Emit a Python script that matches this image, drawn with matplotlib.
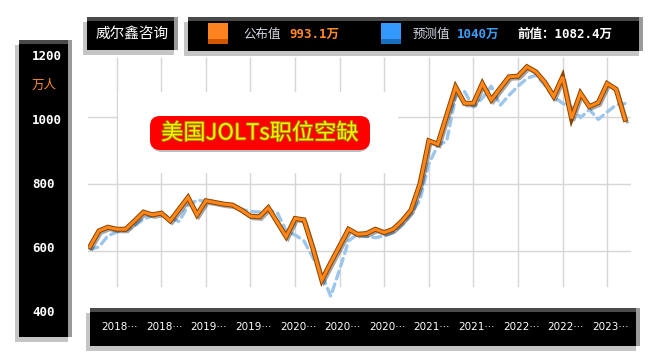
import matplotlib
matplotlib.use('Agg')  # headless
import matplotlib.pyplot as plt
import matplotlib.patheffects as pe
from matplotlib.patches import Rectangle, FancyBboxPatch
import numpy as np

plt.rcParams['font.family'] = ['Noto Sans CJK SC', 'DejaVu Sans']

# --- data (万人) ---
published = [613, 660, 671, 665, 665, 690, 716, 708, 713, 690,
             725, 760, 708, 750, 745, 740, 737, 722, 704, 702,
             729, 686, 643, 697, 693, 608, 513, 565, 615, 665,
             650, 652, 665, 655, 665, 690, 722, 800, 929, 919,
             1005, 1090, 1041, 1041, 1100, 1051, 1086, 1120, 1122, 1150,
             1135, 1104, 1061, 1120, 996, 1071, 1031, 1043, 1100, 1083,
             993]
forecast = [605, 612, 645, 657, 662, 675, 695, 705, 712, 700,
            688, 735, 752, 748, 745, 740, 735, 725, 718, 716,
            722, 715, 660, 648, 630, 580, 530, 465, 545, 630,
            650, 643, 640, 645, 655, 680, 710, 752, 860, 915,
            928, 1060, 1076, 1030, 1056, 1092, 1035, 1065, 1092, 1115,
            1125, 1095, 1061, 1041, 1030, 998, 1022, 993, 1015, 1036,
            1040]
tick_pos = [3, 8, 13, 18, 23, 28, 33, 38, 43, 48, 53, 58]
tick_labels = ['2018···', '2018···', '2019···', '2019···', '2020···', '2020···',
               '2020···', '2021···', '2021···', '2022···', '2022···', '2023···']
y_ticks = [1200, 1000, 800, 600, 400]
unit = '万人'
title = '美国JOLTs职位空缺'
brand = '威尔鑫咨询'
latest_txt, expected_txt, previous_txt = '993.1万', '1040万', '前值：1082.4万'

W, H = 654, 361
XMIN, XMAX = -0.22, 60.67

fig = plt.figure(figsize=(W / 100, H / 100), dpi=100)
fig.patch.set_facecolor('white')


def frac(l, t, r, b):
    return [l / W, 1 - b / H, (r - l) / W, (b - t) / H]


def xpx(i):
    return 88 + (i - XMIN) / (XMAX - XMIN) * (631 - 88)


# --- main plot ---
ax = fig.add_axes(frac(88, 50, 631, 318))
ax.set_xlim(XMIN, XMAX)
ax.set_ylim(400, 1200)
ax.axis('off')
for v in (600, 800, 1000):
    ax.axhline(v, color='#d6d6d6', lw=1, zorder=0)
for p in tick_pos:
    ax.axvline(p, ymin=0.12, ymax=0.97, color='#d6d6d6', lw=1, zorder=0)

x = np.arange(len(published))
ax.plot(x, forecast, color='#9cc6ec', lw=2.4, dashes=(2.4, 1.6),
        dash_capstyle='round', zorder=2)
ax.plot(x, published, color='#ff8618', lw=2.2, solid_joinstyle='miter', zorder=3,
        path_effects=[pe.SimpleLineShadow(offset=(1.5, -1.8), shadow_color='black', alpha=0.35),
                      pe.Stroke(linewidth=3.6, foreground='#8a4300'), pe.Normal()])

# --- overlay: panels, legend, title ---
ov = fig.add_axes([0, 0, 1, 1], zorder=5)
ov.set_xlim(0, W)
ov.set_ylim(H, 0)
ov.axis('off')
ov.patch.set_alpha(0)


def panel(l, t, r, b):
    ov.add_patch(Rectangle((l - 4, t + 5), r - l, b - t, color='#808080', alpha=0.45, lw=0))
    ov.add_patch(Rectangle((l, t), r - l, b - t, color='black', lw=0))
    ov.add_patch(Rectangle((l, t), r - l, 4, color='#4a4a4a', lw=0))
    ov.add_patch(Rectangle((r - 4, t), 4, b - t, color='#9a9a9a', lw=0))


# white halo behind the title badge
ov.add_patch(Rectangle((118, 92), 280, 81, color='white', lw=0))

panel(19, 40, 72, 337)
panel(87, 17, 178, 50)
panel(188, 17, 643, 51)
panel(90, 308, 640, 346)

mono = ['DejaVu Sans Mono', 'Noto Sans CJK SC']
for v in y_ticks:
    ov.text(32, 57 + (1200 - v) / 800 * 256, str(v), color='white', fontsize=9,
            fontweight='bold', family=mono, ha='left', va='center')
ov.text(32, 85, unit, color='#ff8c28', fontsize=9, ha='left', va='center')

ov.text(132, 34, brand, color='white', fontsize=10.5, ha='center', va='center')

# legend items
ov.add_patch(Rectangle((208, 23), 20, 21, color='#ff8220', lw=0))
ov.add_patch(Rectangle((208, 39), 20, 5, color='#d05800', lw=0))
ov.text(243, 34, '公布值', color='#d4d8e4', fontsize=9, ha='left', va='center')
ov.text(289, 34, latest_txt, color='#ff8a28', fontsize=9, fontweight='bold',
        family=mono, ha='left', va='center')
ov.add_patch(Rectangle((381, 23), 20, 21, color='#3399ff', lw=0))
ov.add_patch(Rectangle((381, 39), 20, 5, color='#1a6fc0', lw=0))
ov.text(413, 34, '预测值', color='#d4d8e4', fontsize=9, ha='left', va='center')
ov.text(457, 34, expected_txt, color='#3d9df5', fontsize=9, fontweight='bold',
        family=mono, ha='left', va='center')
ov.text(517, 34, previous_txt, color='white', fontsize=9, fontweight='bold',
        family=mono, ha='left', va='center')

# title badge
ov.add_patch(FancyBboxPatch((152, 122), 216, 30, boxstyle='round,pad=0,rounding_size=10',
                            color='#7a7a7a', alpha=0.5, lw=0))
ov.add_patch(FancyBboxPatch((150, 116), 220, 34, boxstyle='round,pad=0,rounding_size=10',
                            color='#ff0000', lw=0))
ov.text(260, 133, title, color='#f2f200', fontsize=16, ha='center', va='center',
        path_effects=[pe.withStroke(linewidth=1.2, foreground='#a08000')])

# x tick labels
for p, lab in zip(tick_pos, tick_labels):
    ov.text(xpx(p) + 3, 327, lab, color='white', fontsize=7.5, family=['DejaVu Sans'],
            ha='center', va='center')

plt.savefig('out.png', dpi=100, facecolor='white')
plt.close()
